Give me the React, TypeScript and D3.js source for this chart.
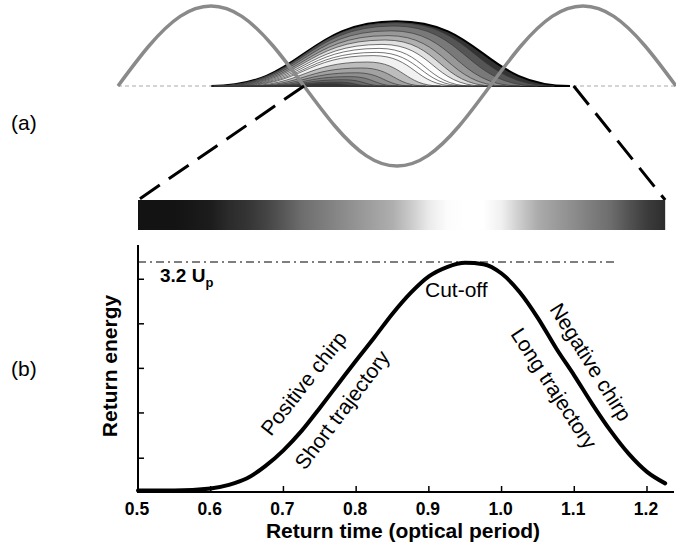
import React from "react";
import * as d3 from "d3";

const W = 676;
const H = 554;

// (b) return energy (in Up) against return time (optical periods)
const returnTime = [0.5, 0.55, 0.6, 0.625, 0.65, 0.675, 0.7, 0.725, 0.75, 0.775, 0.8, 0.825, 0.85, 0.875, 0.9, 0.925, 0.95, 0.975, 1.0, 1.025, 1.05, 1.075, 1.1, 1.125, 1.15, 1.175, 1.2, 1.225];
const returnEnergy = [0.02, 0.02, 0.05, 0.1, 0.19, 0.36, 0.58, 0.85, 1.17, 1.5, 1.83, 2.15, 2.48, 2.77, 3.0, 3.13, 3.19, 3.17, 3.04, 2.78, 2.42, 2.0, 1.62, 1.22, 0.85, 0.53, 0.28, 0.12];
const xTicks = [0.5, 0.6, 0.7, 0.8, 0.9, 1.0, 1.1, 1.2];
const yTicks = [0.47, 1.1, 1.72, 2.34, 2.96];
const cutoff = 3.2;

// (a) driving field over one and a half periods
const fieldTime = [0, 0.083, 0.167, 0.25, 0.333, 0.417, 0.5, 0.583, 0.667, 0.75, 0.833, 0.917, 1.0, 1.083, 1.167, 1.25, 1.333, 1.417, 1.5];
const fieldValue = [0, 0.5, 0.87, 1, 0.87, 0.5, 0, -0.5, -0.87, -1, -0.87, -0.5, 0, 0.5, 0.87, 1, 0.87, 0.5, 0];

// (a) electron excursions, outermost (earliest birth) first
const trajBirth = [0.251, 0.253, 0.258, 0.266, 0.274, 0.282, 0.29, 0.298, 0.306, 0.314, 0.33, 0.346, 0.361, 0.377, 0.393, 0.409, 0.425];
const trajApex = [0.749, 0.747, 0.742, 0.734, 0.726, 0.718, 0.71, 0.702, 0.694, 0.686, 0.67, 0.655, 0.639, 0.623, 0.607, 0.591, 0.575];
const trajHeight = [0.81, 0.79, 0.75, 0.69, 0.63, 0.575, 0.52, 0.47, 0.42, 0.38, 0.3, 0.225, 0.165, 0.117, 0.078, 0.049, 0.028];
const trajReturn = [1.215, 1.173, 1.129, 1.08, 1.043, 1.011, 0.983, 0.95, 0.933, 0.91, 0.867, 0.827, 0.79, 0.754, 0.719, 0.685, 0.651];

const font = "'Liberation Sans', Arial, Helvetica, sans-serif";

export default function App() {
  const xa = d3.scaleLinear().domain([0, 1.5]).range([118, 676]);
  const ya = d3.scaleLinear().domain([-1, 1]).range([166, 6]);
  const xb = d3.scaleLinear().domain([0.5, 1.2]).range([138, 647]);
  const yb = d3.scaleLinear().domain([0, cutoff]).range([492, 262]);

  const energyAt = d3.scaleLinear().domain(returnTime).range(returnEnergy).clamp(true);
  // energy -> grey level, as in the colour bar
  const greyLevel = d3.scaleLinear().domain([0, 0.1, 0.8, 2.6, 3.15]).range([0.05, 0.17, 0.42, 0.7, 1]).clamp(true);
  const grey = (e: number) => d3.interpolateRgb("#000000", "#ffffff")(greyLevel(e));

  const fieldPath = d3
    .line<number>()
    .x((_, i) => xa(fieldTime[i]))
    .y((d) => ya(d))
    .curve(d3.curveNatural)(fieldValue);

  const trajLine = d3
    .line<[number, number]>()
    .x((d) => xa(d[0]))
    .y((d) => ya(d[1]))
    .curve(d3.curveBumpX);

  const energyPath = d3
    .line<number>()
    .x((_, i) => xb(returnTime[i]))
    .y((d) => yb(d))
    .curve(d3.curveMonotoneX)(returnEnergy);

  const tFirst = returnTime[0];
  const tLast = returnTime[returnTime.length - 1];
  const barX0 = xb(tFirst);
  const barX1 = xb(tLast);
  const barTop = 200;
  const barH = 30;
  const base = ya(0);

  return (
    <svg width={W} height={H} style={{ display: "block", position: "absolute", left: 0, top: 0 }} fontFamily={font}>
      <rect width={W} height={H} fill="#fff" />
      <defs>
        <linearGradient id="energyBar" x1="0" x2="1" y1="0" y2="0">
          {returnTime.map((t, i) => (
            <stop key={i} offset={(xb(t) - barX0) / (barX1 - barX0)} stopColor={grey(returnEnergy[i])} />
          ))}
        </linearGradient>
      </defs>

      {/* (a) */}
      <line x1={xa(0)} x2={xa(1.5)} y1={base} y2={base} stroke="#aaa" strokeWidth={1.2} strokeDasharray="4,3" />
      {trajBirth.map((b, i) => {
        const pts: [number, number][] = [[b, 0], [trajApex[i], trajHeight[i]], [trajReturn[i], 0]];
        return (
          <path
            key={i}
            d={trajLine(pts) + "Z"}
            fill={grey(energyAt(trajReturn[i]))}
            stroke={i === 0 ? "#000" : "#3a3a3a"}
            strokeWidth={i === 0 ? 2 : 0.7}
          />
        );
      })}
      <path d={fieldPath || ""} fill="none" stroke="#8a8a8a" strokeWidth={3.5} />
      <line x1={xa(tFirst)} y1={base} x2={barX0} y2={barTop} stroke="#000" strokeWidth={3} strokeDasharray="24,11" />
      <line x1={xa(tLast)} y1={base} x2={barX1} y2={barTop} stroke="#000" strokeWidth={3} strokeDasharray="24,11" />
      <rect x={barX0} y={barTop} width={barX1 - barX0} height={barH} fill="url(#energyBar)" />
      <text x={11} y={130} fontSize={21}>(a)</text>

      {/* (b) */}
      <text x={11} y={376} fontSize={21}>(b)</text>
      <line x1={xb(0.5)} x2={617} y1={yb(cutoff)} y2={yb(cutoff)} stroke="#000" strokeWidth={1.2} strokeDasharray="8,4,2,4" />
      <line x1={xb(0.5)} x2={xb(0.5)} y1={245} y2={yb(0) + 1} stroke="#000" strokeWidth={2} />
      <line x1={xb(0.5) - 1} x2={674} y1={yb(0)} y2={yb(0)} stroke="#000" strokeWidth={2} />
      {yTicks.map((v) => (
        <line key={v} x1={xb(0.5)} x2={xb(0.5) + 6} y1={yb(v)} y2={yb(v)} stroke="#000" strokeWidth={1.5} />
      ))}
      {xTicks.map((v) => (
        <g key={v}>
          <line x1={xb(v)} x2={xb(v)} y1={yb(0)} y2={yb(0) - 6} stroke="#000" strokeWidth={1.5} />
          <text x={xb(v) - 1} y={515} fontSize={17.5} fontWeight="bold" textAnchor="middle">
            {d3.format(".1f")(v)}
          </text>
        </g>
      ))}
      <path d={energyPath || ""} fill="none" stroke="#000" strokeWidth={4} strokeLinecap="round" />
      <text x={403} y={538} fontSize={21} fontWeight="bold" textAnchor="middle">
        Return time (optical period)
      </text>
      <text transform="translate(117,366) rotate(-90)" fontSize={21} fontWeight="bold" textAnchor="middle">
        Return energy
      </text>
      <text x={160} y={282} fontSize={19} fontWeight="bold">
        3.2 U<tspan dy={5} fontSize={13}>p</tspan>
      </text>
      <text x={425} y={297} fontSize={21}>Cut-off</text>
      <text transform="translate(271,437) rotate(-52)" fontSize={21}>Positive chirp</text>
      <text transform="translate(305,471) rotate(-53)" fontSize={21}>Short trajectory</text>
      <text transform="translate(510,334) rotate(57)" fontSize={21}>Long trajectory</text>
      <text transform="translate(549,309) rotate(58)" fontSize={21}>Negative chirp</text>
    </svg>
  );
}
